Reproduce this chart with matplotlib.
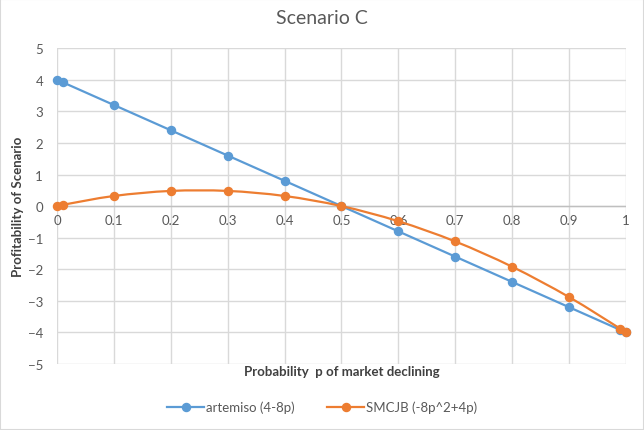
import matplotlib
matplotlib.use("Agg")
import matplotlib.pyplot as plt
from matplotlib.path import Path
from matplotlib.patches import PathPatch, Rectangle
from matplotlib.lines import Line2D

# data
p = [0, 0.01, 0.1, 0.2, 0.3, 0.4, 0.5, 0.6, 0.7, 0.8, 0.9, 0.99, 1]
artemiso = [4, 3.92, 3.2, 2.4, 1.6, 0.8, 0, -0.8, -1.6, -2.4, -3.2, -3.92, -4]
smcjb = [0, 0.0392, 0.32, 0.48, 0.48, 0.32, 0, -0.48, -1.12, -1.92, -2.88, -3.8808, -4]
xticks = [0, 0.1, 0.2, 0.3, 0.4, 0.5, 0.6, 0.7, 0.8, 0.9, 1]
yticks = [-5, -4, -3, -2, -1, 0, 1, 2, 3, 4, 5]

blue = "#5B9BD5"
orange = "#ED7D31"
gray = "#595959"
plt.rcParams['font.family'] = ['Lato', 'DejaVu Sans']

fig = plt.figure(figsize=(6.44, 4.31), dpi=100)
ax = fig.add_axes([0.0885, 0.153, 0.8835, 0.733])
fig.patches.append(Rectangle((0, 0), 1, 1, transform=fig.transFigure,
                             fill=False, edgecolor="#d9d9d9", lw=1.5))


def smooth_path(xs, ys, t=1 / 6):
    # excel-like smoothed line: bezier through the points
    verts = [(xs[0], ys[0])]
    codes = [Path.MOVETO]
    n = len(xs)
    for i in range(n - 1):
        x0, y0 = (xs[i - 1], ys[i - 1]) if i > 0 else (xs[i], ys[i])
        x3, y3 = (xs[i + 2], ys[i + 2]) if i + 2 < n else (xs[i + 1], ys[i + 1])
        c1 = (xs[i] + (xs[i + 1] - x0) * t, ys[i] + (ys[i + 1] - y0) * t)
        c2 = (xs[i + 1] - (x3 - xs[i]) * t, ys[i + 1] - (y3 - ys[i]) * t)
        verts += [c1, c2, (xs[i + 1], ys[i + 1])]
        codes += [Path.CURVE4] * 3
    return Path(verts, codes)


ax.plot(p, artemiso, color=blue, lw=1.6, marker="o", ms=5.8, zorder=3, clip_on=False)
ax.add_patch(PathPatch(smooth_path(p, smcjb), fill=False, edgecolor=orange, lw=1.6, zorder=3))
ax.plot(p, smcjb, color=orange, lw=0, marker="o", ms=5.8, zorder=4, clip_on=False)

ax.set_xlim(0, 1)
ax.set_ylim(-5, 5)
ax.set_xticks(xticks)
ax.set_yticks(yticks)
ax.set_xticklabels([str(v) if v not in (0, 1) else str(int(v)) for v in xticks])
ax.grid(True, color="#d9d9d9", lw=1)
ax.set_axisbelow(True)
for s in ax.spines.values():
    s.set_visible(False)
ax.axhline(0, color="#bfbfbf", lw=1, zorder=1)
ax.tick_params(length=0, colors=gray, labelsize=9.5)
ax.tick_params(axis="y", pad=10)
# x tick labels sit just under the zero line
ax.xaxis.set_ticks_position("bottom")
ax.spines["bottom"].set_position(("data", 0))
ax.tick_params(axis="x", pad=6)

fig.text(0.5, 0.958, "Scenario C", ha="center", va="center", fontsize=14, color=gray)
fig.text(0.53, 0.137, "Probability  p of market declining", ha="center", va="center",
         fontsize=9.5, fontweight="bold", color="#404040")
fig.text(0.028, 0.52, "Profitability of Scenario", ha="center", va="center", rotation=90,
         fontsize=9.5, fontweight="bold", color="#404040")

handles = [Line2D([], [], color=blue, lw=1.6, marker="o", ms=5.8),
           Line2D([], [], color=orange, lw=1.6, marker="o", ms=5.8)]
leg = fig.legend(handles, ["artemiso (4-8p)", "SMCJB (-8p^2+4p)"], loc="center",
                 bbox_to_anchor=(0.5, 0.053), ncol=2, frameon=False, fontsize=9.5,
                 handlelength=2.8, handletextpad=0.1, columnspacing=2.5)
for t in leg.get_texts():
    t.set_color(gray)

fig.savefig("out.png", dpi=100)
